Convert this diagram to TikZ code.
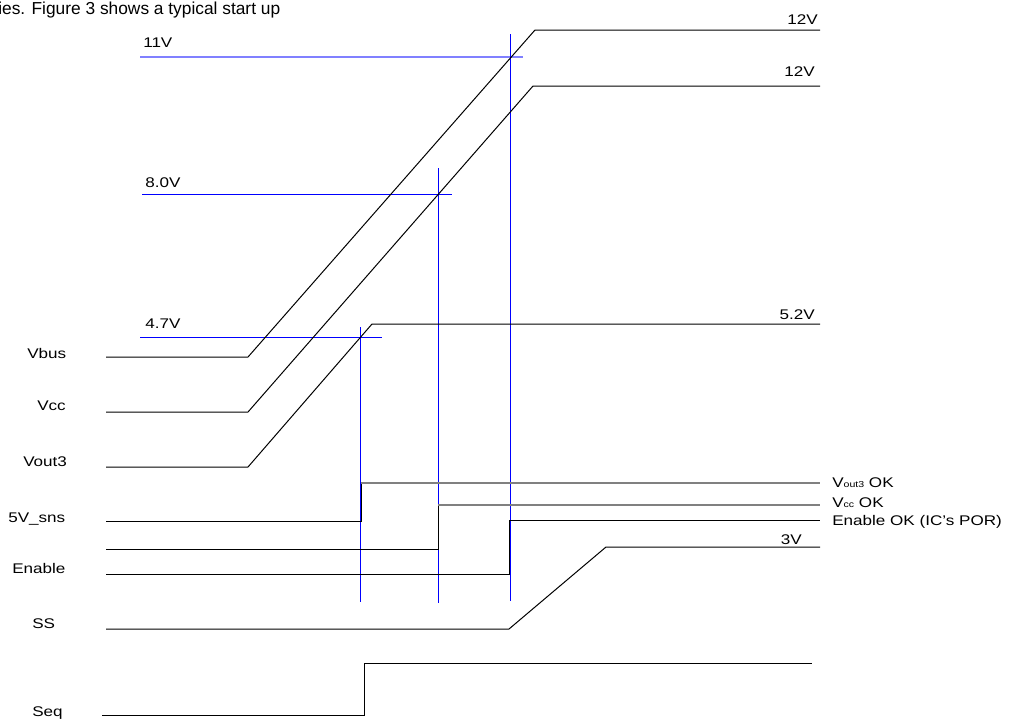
\documentclass[tikz,border=0pt]{standalone}
\usepackage{fontspec}
\setmainfont{Liberation Sans}
\newcommand\hstretch[1]{\scalebox{1.22}[1]{#1}}
\begin{document}
\begin{tikzpicture}[x=0.75pt,y=-0.75pt,
  wave/.style={black,line width=0.75pt},
  okline/.style={gray,line width=0.9pt},
  bluemark/.style={blue,line width=0.75pt},
  lab/.style={font=\fontsize{10.5pt}{12pt}\selectfont,inner sep=0pt}]
\useasboundingbox (0,0) rectangle (1009,721);
\definecolor{lightblue}{RGB}{128,128,255}
% heading text
\node[inner sep=0pt,anchor=base west,font=\fontsize{13pt}{15pt}\selectfont] (head) at (-2,14) {ies. Figure 3 shows a typical start up};
% threshold lines
\draw[lightblue,line width=0.9pt] (140,57) coordinate (h11a) -- (523,57) coordinate (h11b);
\draw[bluemark] (142,194) coordinate (h8a) -- (452,194) coordinate (h8b);
\draw[bluemark] (140,337) coordinate (h47a) -- (382,337) coordinate (h47b);
\node[lab,anchor=base west] (l11) at (143,47) {\hstretch{11V}};
\node[lab,anchor=base west] (l8) at (145,187) {\hstretch{8.0V}};
\node[lab,anchor=base west] (l47) at (145,328) {\hstretch{4.7V}};
% vertical markers
\draw[bluemark] (360,327) coordinate (v1t) -- (360,602) coordinate (v1b);
\draw[bluemark] (438,168) coordinate (v2t) -- (438,603) coordinate (v2b);
\draw[bluemark] (510,34) coordinate (v3t) -- (510,601) coordinate (v3b);
% Vbus
\draw[wave] (106,357) -- (248,357) -- (535,30) -- (820,30);
% Vcc
\draw[wave] (106,412) -- (248,412) -- (533,86) -- (820,86);
% Vout3
\draw[wave] (106,467) -- (248,467) -- (372,324) -- (820,324);
\node[lab,anchor=base east] (r12a) at (818,24) {\hstretch{12V}};
\node[lab,anchor=base east] (r12b) at (815,76) {\hstretch{12V}};
\node[lab,anchor=base east] (r52) at (815,319) {\hstretch{5.2V}};
% 5V_sns
\draw[wave] (106,521) -- (361,521) -- (361,483);
\draw[okline] (361,483) -- (820,483);
% Vcc OK
\draw[wave] (106,549) -- (438,549) -- (438,505);
\draw[okline] (438,505) -- (820,505);
% Enable
\draw[wave] (106,574) -- (509,574) -- (509,520) -- (820,520);
% SS
\draw[wave] (106,629) -- (509,629) -- (606,547) -- (820,547);
\node[lab,anchor=base east] (r3) at (802,544) {\hstretch{3V}};
% Seq
\draw[wave] (102,715) -- (364,715) -- (364,663) -- (812,663);
% right labels
\node[lab,anchor=base west] (ok1) at (832,487) {\hstretch{V{\fontsize{6.5pt}{7pt}\selectfont out3} OK}};
\node[lab,anchor=base west] (ok2) at (832,507) {\hstretch{V{\fontsize{6.5pt}{7pt}\selectfont cc} OK}};
\node[lab,anchor=base west] (ok3) at (832,525) {\hstretch{Enable OK (IC's POR)}};
% left labels
\node[lab,anchor=base west] (nVbus) at (27,358) {\hstretch{Vbus}};
\node[lab,anchor=base west] (nVcc) at (37,410) {\hstretch{Vcc}};
\node[lab,anchor=base west] (nVout) at (23,466) {\hstretch{Vout3}};
\node[lab,anchor=base west] (nsns) at (8,522) {\hstretch{5V\_sns}};
\node[lab,anchor=base west] (nEn) at (12,573) {\hstretch{Enable}};
\node[lab,anchor=base west] (nSS) at (32,628) {\hstretch{SS}};
\node[lab,anchor=base west] (nSeq) at (32,716) {\hstretch{Seq}};
\end{tikzpicture}
\end{document}
